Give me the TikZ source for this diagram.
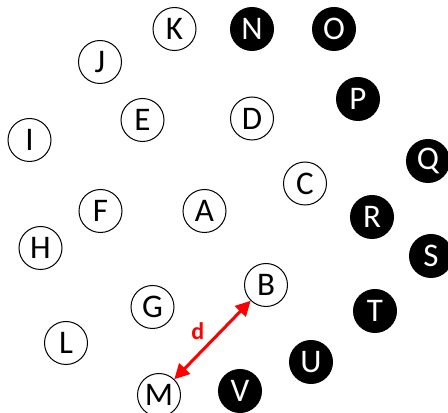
\documentclass[tikz,border=0pt]{standalone}
\usepackage{fontspec}
\setmainfont{Carlito}
\usetikzlibrary{arrows.meta}
\begin{document}
\begin{tikzpicture}[x=1pt,y=1pt,
  wnode/.style={circle,draw=black,line width=1pt,fill=white,minimum size=43pt,inner sep=0pt,font=\fontsize{33}{33}\selectfont},
  bnode/.style={circle,draw=black,line width=1pt,fill=black,text=white,minimum size=43pt,inner sep=0pt,font=\fontsize{33}{33}\selectfont},
  darrow/.style={red,line width=3pt,{Triangle[length=15pt,width=15pt]}-{Triangle[length=15pt,width=15pt]}}]
\useasboundingbox (0,0) rectangle (448,413);
\node[wnode] (K) at (174.5,384) {K};
\node[bnode] (N) at (252,384) {N};
\node[bnode] (O) at (334,384) {O};
\node[wnode] (J) at (100,351) {J};
\node[bnode] (P) at (358,314) {P};
\node[wnode] (E) at (142.5,293) {E};
\node[wnode] (D) at (252,294.5) {D};
\node[wnode] (I) at (29.5,273) {I};
\node[bnode] (Q) at (428,252) {Q};
\node[wnode] (C) at (305,229.5) {C};
\node[wnode] (F) at (100.5,202) {F};
\node[wnode] (A) at (204.5,202) {A};
\node[bnode] (R) at (372,196) {R};
\node[wnode] (H) at (40.5,165) {H};
\node[bnode] (S) at (431,157) {S};
\node[wnode] (B) at (266,128) {B};
\node[wnode] (G) at (152.5,106) {G};
\node[bnode] (T) at (375,102) {T};
\node[wnode] (L) at (66,70) {L};
\node[bnode] (U) at (311,51) {U};
\node[wnode] (M) at (159,18) {M};
\node[bnode] (V) at (240,22) {V};
\draw[darrow] (B) -- node[pos=0.55,above left,inner sep=3pt,text=red,font=\bfseries\fontsize{24}{24}\selectfont] (dl) {d} (M);
\end{tikzpicture}
\end{document}
